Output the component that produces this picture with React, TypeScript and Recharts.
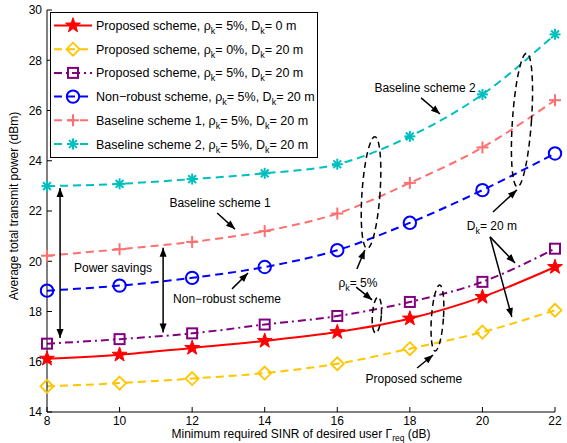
import React from 'react';
import { LineChart, Line, XAxis, YAxis, ReferenceLine, ReferenceDot } from 'recharts';

// minimum required SINR (dB)
const sinrDb = [8, 10, 12, 14, 16, 18, 20, 22];

// average total transmit power (dBm)
const proposedRho5D0 = [16.12, 16.28, 16.55, 16.83, 17.18, 17.72, 18.58, 19.77];
const proposedRho0D20 = [15.02, 15.15, 15.33, 15.55, 15.92, 16.52, 17.18, 18.05];
const proposedRho5D20 = [16.72, 16.9, 17.13, 17.48, 17.82, 18.38, 19.18, 20.5];
const nonRobust = [18.83, 19.03, 19.34, 19.77, 20.44, 21.53, 22.83, 24.29];
const baseline1 = [20.22, 20.48, 20.77, 21.2, 21.9, 23.12, 24.53, 26.41];
const baseline2 = [22.99, 23.08, 23.27, 23.5, 23.86, 24.97, 26.64, 29.03];

const xTicks = [8, 10, 12, 14, 16, 18, 20, 22];
const yTicks = [14, 16, 18, 20, 22, 24, 26, 28, 30];

const FONT = '"Liberation Sans", Arial, Helvetica, sans-serif';

type MarkerKind = 'star' | 'diamond' | 'square' | 'circle' | 'plus' | 'asterisk';

const series: {
  key: string;
  label: string;
  rho: string;
  d: string;
  values: number[];
  color: string;
  dash?: string;
  marker: MarkerKind;
}[] = [
  { key: 'p50', label: 'Proposed scheme', rho: '5%', d: '0 m', values: proposedRho5D0, color: '#ff0000', marker: 'star' },
  { key: 'p020', label: 'Proposed scheme', rho: '0%', d: '20 m', values: proposedRho0D20, color: '#ffc600', dash: '8 5', marker: 'diamond' },
  { key: 'p520', label: 'Proposed scheme', rho: '5%', d: '20 m', values: proposedRho5D20, color: '#800080', dash: '8 4 2 4', marker: 'square' },
  { key: 'nr', label: 'Non\u2212robust scheme', rho: '5%', d: '20 m', values: nonRobust, color: '#0000ff', dash: '8 5', marker: 'circle' },
  { key: 'b1', label: 'Baseline scheme 1', rho: '5%', d: '20 m', values: baseline1, color: '#ff6f6f', dash: '8 5', marker: 'plus' },
  { key: 'b2', label: 'Baseline scheme 2', rho: '5%', d: '20 m', values: baseline2, color: '#00bfbf', dash: '8 5', marker: 'asterisk' },
];

const rows = sinrDb.map((x, i) => {
  const row: Record<string, number> = { x };
  series.forEach((s) => (row[s.key] = s.values[i]));
  return row;
});

// annotations, in data units
const notes = [
  { x: 18.42, y: 26.9, text: 'Baseline scheme 2' },
  { x: 12.77, y: 22.32, text: 'Baseline scheme 1' },
  { x: 9.82, y: 19.77, text: 'Power savings' },
  { x: 12.96, y: 18.5, text: 'Non\u2212robust scheme' },
  { x: 18.11, y: 15.35, text: 'Proposed scheme' },
];
const subNotes = [
  { x: 20.26, y: 21.44, main: 'D', rest: '= 20 m' },
  { x: 16.57, y: 19.17, main: '\u03c1', rest: '= 5%' },
];
const arrows = [
  { x1: 18.31, y1: 26.5, x2: 18.83, y2: 25.86, both: false },
  { x1: 12.69, y1: 21.92, x2: 13.18, y2: 21.28, both: false },
  { x1: 8.36, y1: 22.92, x2: 8.36, y2: 16.95, both: true },
  { x1: 11.2, y1: 20.54, x2: 11.2, y2: 17.16, both: true },
  { x1: 13.1, y1: 18.9, x2: 13.54, y2: 19.53, both: false },
  { x1: 20.29, y1: 21.96, x2: 20.95, y2: 22.84, both: false },
  { x1: 20.21, y1: 20.97, x2: 20.9, y2: 19.93, both: false },
  { x1: 20.21, y1: 20.97, x2: 20.81, y2: 17.78, both: false },
  { x1: 16.54, y1: 19.69, x2: 16.76, y2: 20.45, both: false },
  { x1: 16.52, y1: 18.97, x2: 16.96, y2: 18.46, both: false },
  { x1: 18.2, y1: 15.75, x2: 18.64, y2: 16.27, both: false },
];
const ellipses = [
  { x: 16.93, y: 22.73, rx: 9, ry: 56 },
  { x: 17.09, y: 17.86, rx: 4.5, ry: 18 },
  { x: 18.76, y: 17.74, rx: 6, ry: 33 },
  { x: 21.09, y: 25.62, rx: 9.5, ry: 67 },
];

const Marker = ({ kind, cx, cy, color }: { kind: MarkerKind; cx: number; cy: number; color: string }) => {
  if (cx == null || cy == null) return <g />;
  switch (kind) {
    case 'star': {
      const pts: string[] = [];
      for (let i = 0; i < 10; i++) {
        const r = i % 2 === 0 ? 7.8 : 3.1;
        const a = -Math.PI / 2 + (i * Math.PI) / 5;
        pts.push(`${cx + r * Math.cos(a)},${cy + r * Math.sin(a)}`);
      }
      return <polygon points={pts.join(' ')} fill={color} stroke={color} strokeWidth={1} />;
    }
    case 'diamond':
      return (
        <polygon
          points={`${cx},${cy - 6.5} ${cx + 6.5},${cy} ${cx},${cy + 6.5} ${cx - 6.5},${cy}`}
          fill="none"
          stroke={color}
          strokeWidth={1.8}
        />
      );
    case 'square':
      return <rect x={cx - 5} y={cy - 5} width={10} height={10} fill="none" stroke={color} strokeWidth={2} />;
    case 'circle':
      return <circle cx={cx} cy={cy} r={6.2} fill="none" stroke={color} strokeWidth={2} />;
    case 'plus':
      return (
        <g stroke={color} strokeWidth={2}>
          <line x1={cx - 6} y1={cy} x2={cx + 6} y2={cy} />
          <line x1={cx} y1={cy - 6} x2={cx} y2={cy + 6} />
        </g>
      );
    case 'asterisk': {
      const r = 5.5;
      const d = r * 0.707;
      return (
        <g stroke={color} strokeWidth={2}>
          <line x1={cx - r} y1={cy} x2={cx + r} y2={cy} />
          <line x1={cx} y1={cy - r} x2={cx} y2={cy + r} />
          <line x1={cx - d} y1={cy - d} x2={cx + d} y2={cy + d} />
          <line x1={cx - d} y1={cy + d} x2={cx + d} y2={cy - d} />
        </g>
      );
    }
  }
  return <g />;
};

const head = (x: number, y: number, fx: number, fy: number) => {
  // arrow head at (x, y) pointing away from (fx, fy)
  const dx = x - fx;
  const dy = y - fy;
  const len = Math.sqrt(dx * dx + dy * dy) || 1;
  const ux = dx / len;
  const uy = dy / len;
  const L = 9;
  const W = 3.5;
  const bx = x - ux * L;
  const by = y - uy * L;
  return `${x},${y} ${bx - uy * W},${by + ux * W} ${bx + uy * W},${by - ux * W}`;
};

const ArrowShape = (props: any) => {
  const { x1, y1, x2, y2, both } = props;
  if (x1 == null) return <g />;
  return (
    <g>
      <line x1={x1} y1={y1} x2={x2} y2={y2} stroke="#000" strokeWidth={1.5} />
      <polygon points={head(x2, y2, x1, y1)} fill="#000" />
      {both && <polygon points={head(x1, y1, x2, y2)} fill="#000" />}
    </g>
  );
};

const Legend = () => (
  <div
    style={{
      position: 'absolute',
      left: 50,
      top: 12,
      width: 268,
      height: 146,
      border: '1px solid #000',
      background: '#fff',
      boxSizing: 'border-box',
    }}
  >
    <svg width={266} height={144} style={{ display: 'block' }}>
      {series.map((s, i) => {
        const cy = 12.5 + i * 23.7;
        return (
          <g key={s.key}>
            <line x1={3} y1={cy} x2={41} y2={cy} stroke={s.color} strokeWidth={2} strokeDasharray={s.dash} />
            <Marker kind={s.marker} cx={22} cy={cy} color={s.color} />
            <text x={45} y={cy + 4.5} fontFamily={FONT} fontSize={12.5} fill="#000">
              {s.label}, {'\u03c1'}
              <tspan fontSize={9} dy={4}>k</tspan>
              <tspan dy={-4}>= {s.rho}, D</tspan>
              <tspan fontSize={9} dy={4}>k</tspan>
              <tspan dy={-4}>= {s.d}</tspan>
            </text>
          </g>
        );
      })}
    </svg>
  </div>
);

const App = () => (
  <div style={{ position: 'absolute', left: 0, top: 0, width: 567, height: 443, background: '#fff' }}>
    <LineChart
      width={567}
      height={443}
      data={rows}
      margin={{ top: 10, right: 12, left: 0, bottom: 0 }}
      style={{ fontFamily: FONT }}
    >
      <XAxis
        dataKey="x"
        type="number"
        domain={[8, 22]}
        ticks={xTicks}
        height={31}
        stroke="#000"
        tickSize={-5}
        tickMargin={9}
        tick={{ fill: '#000', fontSize: 12 }}
        label={{
          content: (p: any) => (
            <text
              x={p.viewBox.x + p.viewBox.width / 2}
              y={p.viewBox.y + 26}
              textAnchor="middle"
              fontFamily={FONT}
              fontSize={12}
              fill="#000"
            >
              Minimum required SINR of desired user {'\u0393'}
              <tspan fontSize={8.5} dy={2.5}>req</tspan>
              <tspan dy={-2.5}> (dB)</tspan>
            </text>
          ),
        }}
      />
      <XAxis
        xAxisId="top"
        orientation="top"
        type="number"
        domain={[8, 22]}
        ticks={xTicks}
        height={0}
        stroke="#000"
        tickSize={-5}
        tick={false}
      />
      <YAxis
        type="number"
        domain={[14, 30]}
        ticks={yTicks}
        width={47}
        stroke="#000"
        tickSize={-5}
        tickMargin={10}
        tick={{ fill: '#000', fontSize: 12 }}
        label={{
          content: (p: any) => (
            <text
              x={18}
              y={p.viewBox.y + p.viewBox.height / 2 - 5}
              textAnchor="middle"
              fontFamily={FONT}
              fontSize={12}
              fill="#000"
              transform={`rotate(-90 18 ${p.viewBox.y + p.viewBox.height / 2 - 5})`}
            >
              Average total transmit power (dBm)
            </text>
          ),
        }}
      />
      <YAxis
        yAxisId="right"
        orientation="right"
        type="number"
        domain={[14, 30]}
        ticks={yTicks}
        width={0}
        stroke="#000"
        tickSize={-5}
        tick={false}
      />
      {series.map((s) => (
        <Line
          key={s.key}
          dataKey={s.key}
          type="monotone"
          stroke={s.color}
          strokeWidth={2}
          strokeDasharray={s.dash}
          isAnimationActive={false}
          dot={(p: any) => <Marker key={`${s.key}-${p.index}`} kind={s.marker} cx={p.cx} cy={p.cy} color={s.color} />}
          activeDot={false}
        />
      ))}
      {ellipses.map((e, i) => (
        <ReferenceDot
          key={`el${i}`}
          x={e.x}
          y={e.y}
          r={0}
          shape={(p: any) => (
            <ellipse
              cx={p.cx}
              cy={p.cy}
              rx={e.rx}
              ry={e.ry}
              fill="none"
              stroke="#000"
              strokeWidth={1.5}
              strokeDasharray="6 4"
              transform={`rotate(4 ${p.cx} ${p.cy})`}
            />
          )}
        />
      ))}
      {arrows.map((a, i) => (
        <ReferenceLine
          key={`ar${i}`}
          segment={[
            { x: a.x1, y: a.y1 },
            { x: a.x2, y: a.y2 },
          ]}
          shape={(p: any) => <ArrowShape {...p} both={a.both} />}
        />
      ))}
      {notes.map((n, i) => (
        <ReferenceDot
          key={`nt${i}`}
          x={n.x}
          y={n.y}
          r={0}
          shape={(p: any) => (
            <text x={p.cx} y={p.cy + 4.5} textAnchor="middle" fontFamily={FONT} fontSize={12} fill="#000">
              {n.text}
            </text>
          )}
        />
      ))}
      {subNotes.map((n, i) => (
        <ReferenceDot
          key={`sn${i}`}
          x={n.x}
          y={n.y}
          r={0}
          shape={(p: any) => (
            <text x={p.cx} y={p.cy + 4.5} textAnchor="middle" fontFamily={FONT} fontSize={12} fill="#000">
              {n.main}
              <tspan fontSize={9} dy={4}>k</tspan>
              <tspan dy={-4}>{n.rest}</tspan>
            </text>
          )}
        />
      ))}
    </LineChart>
    <Legend />
  </div>
);

export default App;
